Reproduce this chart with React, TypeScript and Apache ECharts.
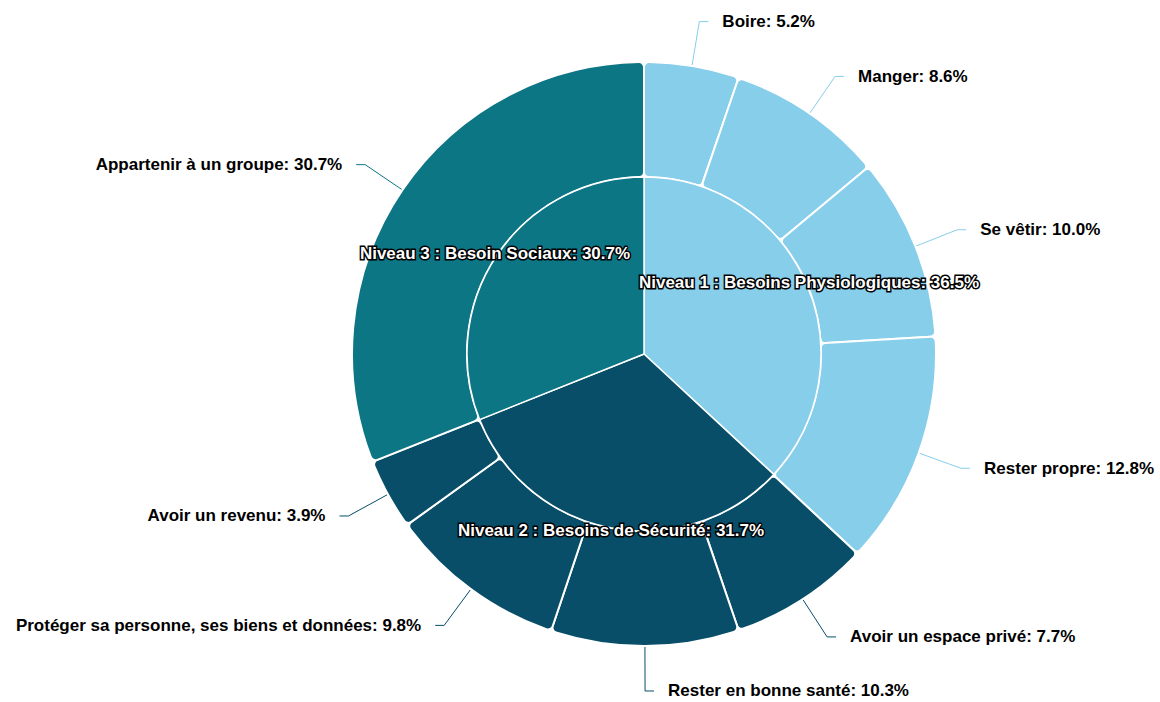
import React, { useEffect, useRef } from "react";
import * as echarts from "echarts";

const innerNames = [
  "Niveau 1 : Besoins Physiologiques",
  "Niveau 2 : Besoins de Sécurité",
  "Niveau 3 : Besoin Sociaux",
];
const innerValues = [36.5, 31.7, 30.7];
const innerColors = ["#87CEEB", "#084E68", "#0D7685"];

const outerNames = [
  "Boire",
  "Manger",
  "Se vêtir",
  "Rester propre",
  "Avoir un espace privé",
  "Rester en bonne santé",
  "Protéger sa personne, ses biens et données",
  "Avoir un revenu",
  "Appartenir à un groupe",
];
const outerValues = [5.2, 8.6, 10.0, 12.8, 7.7, 10.3, 9.8, 3.9, 30.7];
const outerGroup = [0, 0, 0, 0, 1, 1, 1, 1, 2];

const FONT = '"Liberation Sans", Arial, Helvetica, sans-serif';
const CENTER = [644, 354];
const fmt = (p: any) => `${p.name}: ${Number(p.value).toFixed(1)}%`;

export default function App() {
  const ref = useRef<HTMLDivElement>(null);
  useEffect(() => {
    document.body.style.margin = "0";
    const chart = echarts.init(ref.current!, null, { renderer: "svg" });
    const innerData = innerNames.map((n, i) => ({
      name: n,
      value: innerValues[i],
      itemStyle: { color: innerColors[i] },
    }));
    const outerData = outerNames.map((n, i) => ({
      name: n,
      value: outerValues[i],
      itemStyle: { color: innerColors[outerGroup[i]] },
    }));
    chart.setOption({
      animation: false,
      backgroundColor: "#ffffff",
      series: [
        {
          type: "pie",
          center: CENTER,
          radius: [177, 292],
          startAngle: 90,
          clockwise: true,
          silent: true,
          data: outerData,
          itemStyle: { borderColor: "#ffffff", borderWidth: 2, borderRadius: 5 },
          label: {
            show: true,
            formatter: fmt,
            color: "#000000",
            fontFamily: FONT,
            fontWeight: "bold",
            fontSize: 17,
            distanceToLabelLine: 14,
            overflow: "none",
          },
          labelLine: { show: true, length: 45, length2: 9, lineStyle: { width: 1 } },
          z: 2,
        },
        {
          type: "pie",
          center: CENTER,
          radius: [0, 177],
          startAngle: 90,
          clockwise: true,
          silent: true,
          data: innerData,
          itemStyle: { borderColor: "#ffffff", borderWidth: 1.5 },
          label: { show: false },
          labelLine: { show: false },
          z: 3,
        },
        {
          type: "pie",
          center: CENTER,
          radius: [176, 178],
          startAngle: 90,
          clockwise: true,
          silent: true,
          data: innerData.map((d) => ({ ...d, itemStyle: { color: "rgba(0,0,0,0)" } })),
          itemStyle: { borderWidth: 0 },
          label: {
            show: true,
            position: "inside",
            formatter: fmt,
            color: "#ffffff",
            fontFamily: FONT,
            fontWeight: "bold",
            fontSize: 17,
            textBorderColor: "#000000",
            textBorderWidth: 3,
            overflow: "none",
          },
          labelLine: { show: false },
          z: 5,
        },
      ],
    });
    return () => chart.dispose();
  }, []);
  return <div ref={ref} style={{ width: 1160, height: 702 }} />;
}
